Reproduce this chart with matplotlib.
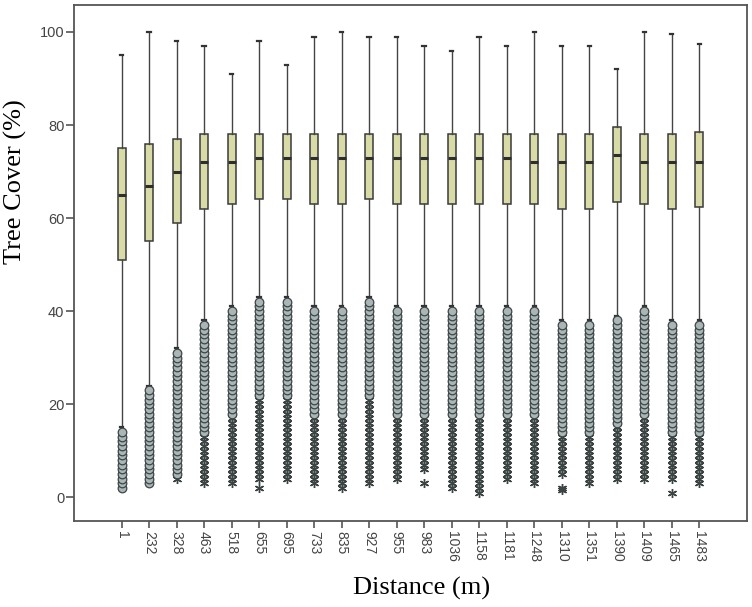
import numpy as np
import matplotlib
matplotlib.use("Agg")
import matplotlib.pyplot as plt

# distance classes (m)
distances = ['1', '232', '328', '463', '518', '655', '695', '733', '835', '927', '955',
             '983', '1036', '1158', '1181', '1248', '1310', '1351', '1390', '1409', '1465', '1483']

# box statistics (tree cover %)
whisker_hi = [95, 100, 98, 97, 91, 98, 93, 99, 100, 99, 99, 97, 96, 99, 97, 100, 97, 97, 92, 100, 99.5, 97.5]
q3 = [75, 76, 77, 78, 78, 78, 78, 78, 78, 78, 78, 78, 78, 78, 78, 78, 78, 78, 79.5, 78, 78, 78.4]
medians = [65, 67, 70, 72, 72, 73, 73, 73, 73, 73, 73, 73, 73, 73, 73, 72, 72, 72, 73.5, 72, 72, 72]
q1 = [51, 55, 59, 62, 63, 64, 64, 63, 63, 64, 63, 63, 63, 63, 63, 63, 62, 62, 63.5, 63, 62, 62.4]

# outliers: circles (mild) and stars (extreme), given as ranges of integer values
circle_top = [14, 23, 31, 37, 40, 42, 42, 40, 40, 42, 40, 40, 40, 40, 40, 40, 37, 37, 38, 40, 37, 37]
circle_bottom = [2, 3, 5, 14, 18, 22, 22, 18, 18, 22, 18, 18, 18, 18, 18, 18, 14, 14, 16, 18, 14, 14]
star_bottom = [None, None, 4, 3, 3, 4, 4, 3, 2, 3, 4, 6, 2, 1, 4, 3, 5, 3, 4, 4, 4, 3]
extra_stars = {5: [2], 11: [3], 16: [2, 1.6], 20: [1]}

plt.rcParams['font.family'] = ['Liberation Sans', 'DejaVu Sans']

fig = plt.figure(figsize=(7.52, 6.07), dpi=100)
ax = fig.add_axes([0.0984, 0.1417, 0.8950, 0.8501])

positions = np.arange(len(distances))
stats = []
for i in range(len(distances)):
    stats.append(dict(med=medians[i], q1=q1[i], q3=q3[i],
                      whislo=circle_top[i] + 1, whishi=whisker_hi[i], fliers=[]))

ax.bxp(stats, positions=positions, widths=0.29, patch_artist=True,
       showfliers=False, capwidths=0.12,
       boxprops=dict(facecolor='#d9dba6', edgecolor='#3a3a3a', linewidth=1.1),
       medianprops=dict(color='#2e2e2e', linewidth=2.2),
       whiskerprops=dict(color='#444444', linewidth=1.0),
       capprops=dict(color='#333333', linewidth=1.6))

# outlier markers
for i, x in enumerate(positions):
    if star_bottom[i] is not None:
        sv = np.arange(star_bottom[i], circle_bottom[i])
        sv = np.concatenate([sv, extra_stars.get(i, [])])
        ax.plot(np.full(len(sv), x), sv, linestyle='none', marker=(6, 2, 0),
                markersize=6.5, markeredgewidth=1.0, color='#3b4343', zorder=3)
    cv = np.arange(circle_bottom[i], circle_top[i] + 1)
    ax.plot(np.full(len(cv), x), cv, linestyle='none', marker='o',
            markersize=6.2, markerfacecolor='#aab5b5', markeredgecolor='#3d4646',
            markeredgewidth=0.9, zorder=4)

ax.set_xlim(-1.73, 22.74)
ax.set_ylim(-5.1, 105.8)
ax.set_yticks([0, 20, 40, 60, 80, 100])
ax.set_xticks(positions)
ax.set_xticklabels(distances, rotation=-90, fontsize=10, color='#444444')
ax.tick_params(axis='y', length=6, width=1.2, color='#555555', labelsize=10.5,
               labelcolor='#444444', pad=1)
ax.tick_params(axis='x', length=5, width=1.2, color='#555555', pad=2)
for s in ax.spines.values():
    s.set_color('#555555')
    s.set_linewidth(1.3)

fig.text(0.021, 0.70, 'Tree Cover (%)', rotation=90, ha='center', va='center',
         fontsize=19, family=['Liberation Serif', 'DejaVu Serif'])
fig.text(0.56, 0.031, 'Distance (m)', ha='center', va='center',
         fontsize=19, family=['Liberation Serif', 'DejaVu Serif'])

fig.savefig('out.png', dpi=100)
